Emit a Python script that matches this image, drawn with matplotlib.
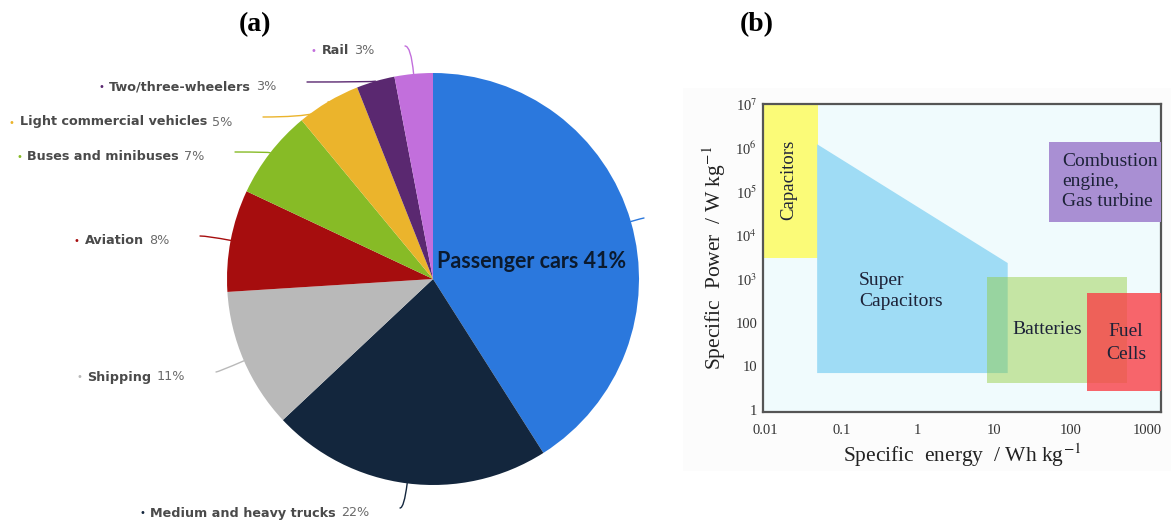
import numpy as np
import matplotlib.pyplot as plt
from matplotlib.offsetbox import TextArea, HPacker, AnnotationBbox
from matplotlib.patches import Rectangle, Polygon

plt.rcParams['mathtext.fontset'] = 'stix'

W, H = 1171, 523

# (a) energy use in transport, by mode
modes = ['Passenger cars', 'Medium and heavy trucks', 'Shipping', 'Aviation',
         'Buses and minibuses', 'Light commercial vehicles', 'Two/three-wheelers', 'Rail']
shares = [41, 22, 11, 8, 7, 5, 3, 3]
mode_colors = ['#2b78dd', '#13263d', '#b9b9b9', '#a60d0e',
               '#87bb26', '#ebb42c', '#5a2870', '#c26fdc']
# end point of every leader line, pixels from the top-left corner
leader_px = [(644, 218), (400, 508), (216, 372), (200, 236),
             (235, 152), (263, 117), (307, 82), (405, 46)]

# (b) Ragone chart
energy_ticks = [0.01, 0.1, 1, 10, 100, 1000]
energy_labels = ['0.01', '0.1', '1', '10', '100', '1000']
power_ticks = [1, 10, 100, 1e3, 1e4, 1e5, 1e6, 1e7]
power_labels = ['1', '10', '100', '10$^3$', '10$^4$', '10$^5$', '10$^6$', '10$^7$']
# boxes as (energy min, energy max, power min, power max)
capacitors = (0.009, 0.05, 3e3, 1e7)
batteries = (8, 550, 4.2, 1.1e3)
fuel_cells = (163, 3000, 2.7, 480)
combustion = (52, 3000, 2e4, 1.35e6)
supercap_energy = [0.048, 0.048, 15, 15]
supercap_power = [7, 1.2e6, 2.3e3, 7]


def fig_xy(px, py):
    return px / W, 1 - py / H


fig = plt.figure(figsize=(W / 100, H / 100), dpi=100)

# faint backdrop behind panel (b)
fig.patches.append(Rectangle(fig_xy(683, 471), (1171 - 683) / W, (471 - 88) / H,
                             transform=fig.transFigure, facecolor='#fcfcfc',
                             edgecolor='none', zorder=-5))

# ---------- (a) pie ----------
ax1 = fig.add_axes([(433 - 206) / W, (H - 279 - 206) / H, 412 / W, 412 / H])
ax1.pie(shares, colors=mode_colors, startangle=90, counterclock=False,
        radius=1, wedgeprops=dict(linewidth=0))
ax1.set_xlim(-1, 1)
ax1.set_ylim(-1, 1)
ax1.axis('off')

cum = np.cumsum(shares) - np.array(shares) / 2
for i, (name, share, col) in enumerate(zip(modes, shares, mode_colors)):
    ang = 90 - 360 * cum[i] / 100
    tip = (np.cos(np.radians(ang)), np.sin(np.radians(ang)))
    ex, ey = leader_px[i]
    ax1.annotate('', xy=tip, xycoords='data', xytext=fig_xy(ex, ey),
                 textcoords='figure fraction', annotation_clip=False,
                 arrowprops=dict(arrowstyle='-', color=col, lw=1.0,
                                 shrinkA=0, shrinkB=0,
                                 connectionstyle=f'angle3,angleA=0,angleB={ang}'))
    if i == 0:
        continue
    box = HPacker(children=[
        TextArea('\u2022', textprops=dict(color=col, fontsize=7)),
        TextArea(name, textprops=dict(color='#4a4a4a', fontsize=9.2, fontweight='bold')),
        TextArea(f'{share}%', textprops=dict(color='#6a6a6a', fontsize=9.2)),
    ], sep=3.5, pad=0, align='baseline')
    ab = AnnotationBbox(box, fig_xy(ex - 31, ey + 5), xycoords='figure fraction',
                        box_alignment=(1, 0.5), frameon=False, pad=0,
                        annotation_clip=False)
    ax1.add_artist(ab)

fig.text(*fig_xy(437, 262), f'{modes[0]} {shares[0]}%', ha='left', va='center',
         fontsize=15.5, fontweight='bold', family='Lato', color='#0b1a2e')

# ---------- (b) Ragone plot ----------
ax2 = fig.add_axes([762.7 / W, (H - 412) / H, (1161 - 762.7) / W, (412 - 104) / H])
ax2.set_xscale('log')
ax2.set_yscale('log')
ax2.set_xlim(0.0093, 1525)
ax2.set_ylim(0.9, 1e7)
ax2.set_facecolor('#f0fbfd')


def box(spec, **kw):
    x0, x1, y0, y1 = spec
    ax2.add_patch(Rectangle((x0, y0), x1 - x0, y1 - y0, linewidth=0, **kw))


box(capacitors, facecolor='#fbfb78', zorder=1)
ax2.add_patch(Polygon(np.column_stack([supercap_energy, supercap_power]),
                      closed=True, facecolor='#9fdcf5', linewidth=0, zorder=2))
box(batteries, facecolor='#91cb39', alpha=0.45, zorder=3)
box(fuel_cells, facecolor='#f94046', alpha=0.8, zorder=4)
box(combustion, facecolor='#a98fd3', zorder=3)

serif = 'Liberation Serif'
tcol = '#1d2238'
ax2.text(0.0206, 1.8e5, 'Capacitors', rotation=90, ha='center', va='center',
         family=serif, fontsize=13.5, color=tcol, zorder=5)
ax2.text(0.17, 530, 'Super\nCapacitors', ha='left', va='center',
         family=serif, fontsize=14, color=tcol, linespacing=1.3, zorder=5)
ax2.text(50, 68, 'Batteries', ha='center', va='center',
         family=serif, fontsize=14, color=tcol, zorder=5)
ax2.text(530, 34, 'Fuel\nCells', ha='center', va='center',
         family=serif, fontsize=14, color=tcol, linespacing=1.4, zorder=5)
ax2.text(78, 1.7e5, 'Combustion\nengine,\nGas turbine', ha='left', va='center',
         family=serif, fontsize=14, color=tcol, linespacing=1.25, zorder=5)

ax2.set_xticks(energy_ticks)
ax2.set_xticklabels(energy_labels)
ax2.set_yticks(power_ticks)
ax2.set_yticklabels(power_labels)
ax2.minorticks_off()
ax2.tick_params(axis='both', length=0, labelsize=10.5, labelcolor='#333333')
ax2.tick_params(axis='x', pad=9)
ax2.tick_params(axis='y', pad=4)
for lab in ax2.get_xticklabels() + ax2.get_yticklabels():
    lab.set_family(serif)
for sp in ax2.spines.values():
    sp.set_linewidth(1.6)
    sp.set_color('#555555')

ax2.set_xlabel('Specific  energy  / Wh kg$^{-1}$', family=serif, fontsize=15.5,
               color='#222222', labelpad=3)
ax2.set_ylabel('Specific  Power  / W kg$^{-1}$', family=serif, fontsize=15.5,
               color='#222222', labelpad=5)

# panel letters
fig.text(*fig_xy(255, 25), '(a)', ha='center', va='center', family=serif,
         fontsize=20, fontweight='bold')
fig.text(*fig_xy(757, 25), '(b)', ha='center', va='center', family=serif,
         fontsize=20, fontweight='bold')

fig.savefig('out.png', dpi=100)
